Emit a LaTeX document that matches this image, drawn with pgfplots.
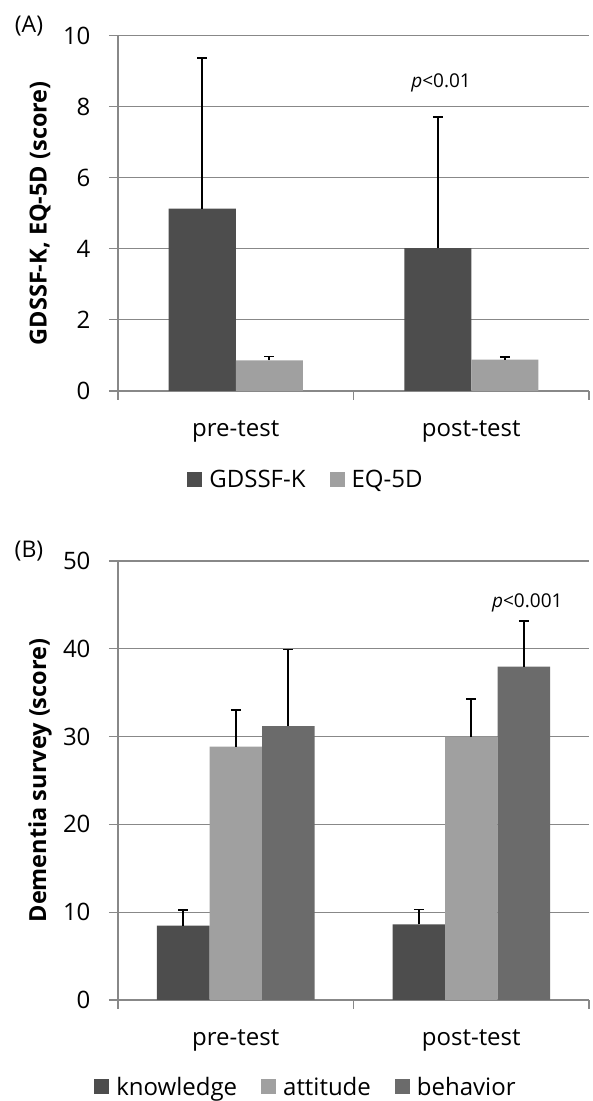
\documentclass[border=0pt]{standalone}
\usepackage{fontspec}
\setmainfont{Open Sans}
\usepackage{pgfplots}
\pgfplotsset{compat=1.18}
\definecolor{cdark}{HTML}{4D4D4D}
\definecolor{clight}{HTML}{A0A0A0}
\definecolor{cmid}{HTML}{6B6B6B}
\definecolor{cgrid}{HTML}{888888}
\pgfplotsset{
  mystyle/.style={
    scale only axis, width=471pt,
    xmin=-0.5, xmax=1.5,
    xtick={-0.5,0.5,1.5}, xticklabels={},
    extra x ticks={0,1}, extra x tick labels={pre-test,post-test},
    extra x tick style={major tick length=0pt, xticklabel style={yshift=-26pt}},
    axis x line*=bottom, axis y line*=left,
    axis line style={cgrid, line width=1.2pt, -},
    ymajorgrids, grid style={cgrid, line width=1.2pt},
    tick align=outside, major tick length=9pt,
    tick style={cgrid, line width=1.2pt},
    tick label style={font=\fontsize{24}{28}\selectfont},
    /pgf/number format/assume math mode=true,
    yticklabel style={xshift=-15pt},
    every axis y label/.style={at={(axis description cs:-0.1656,0.5)}, rotate=90, anchor=center},
    ylabel style={font=\bfseries\fontsize{23.5}{28}\selectfont},
    legend style={draw=none, fill=none, font=\fontsize{24}{28}\selectfont, legend columns=-1,
      /tikz/every odd column/.append style={column sep=5pt},
      /tikz/every even column/.append style={column sep=22pt}},
    ybar=0pt,
  },
  mylegend/.style={legend image code/.code={\fill[##1] (0pt,-7.5pt) rectangle (15pt,7.5pt);}},
  myerr/.style={error bars/.cd, y dir=plus, y explicit,
    error bar style={black, line width=1.6pt},
    error mark options={rotate=90, mark size=5pt, black, line width=1.6pt}},
}
\begin{document}
\begin{tikzpicture}
\path[use as bounding box] (0pt,0pt) rectangle (593pt,1101pt);
\begin{axis}[mystyle, at={(118pt,710pt)}, anchor=south west, height=355.5pt,
  ymin=0, ymax=10, ytick={0,2,4,6,8,10},
  bar width=67pt,
  ylabel={GDSSF-K, EQ-5D (score)},
  legend style={at={(axis description cs:0.399,-0.25)}, anchor=center}]
\addplot[fill=cdark, draw=none, mylegend, myerr] coordinates {(0,5.13) +- (0,4.23) (1,4.02) +- (0,3.69)};
\addplot[fill=clight, draw=none, mylegend, myerr] coordinates {(0,0.86) +- (0,0.11) (1,0.88) +- (0,0.08)};
\legend{GDSSF-K, EQ-5D}
\node[font=\fontsize{19}{22}\selectfont] at (axis cs:0.872,8.68) {\textit{p}<0.01};
\end{axis}
\begin{axis}[mystyle, at={(118pt,101pt)}, anchor=south west, height=439pt,
  ymin=0, ymax=50, ytick={0,10,20,30,40,50},
  bar width=52.5pt,
  ylabel={Dementia survey (score)},
  legend style={at={(axis description cs:0.399,-0.198)}, anchor=center}]
\addplot[fill=cdark, draw=none, mylegend, myerr] coordinates {(0,8.46) +- (0,1.79) (1,8.62) +- (0,1.68)};
\addplot[fill=clight, draw=none, mylegend, myerr] coordinates {(0,28.85) +- (0,4.15) (1,30.0) +- (0,4.25)};
\addplot[fill=cmid, draw=none, mylegend, myerr] coordinates {(0,31.2) +- (0,8.7) (1,37.96) +- (0,5.24)};
\legend{knowledge, attitude, behavior}
\node[font=\fontsize{19}{22}\selectfont] at (axis cs:1.238,45.2) {\textit{p}<0.001};
\end{axis}
\node[font=\fontsize{23}{27}\selectfont] at (29pt,1075pt) {(A)};
\node[font=\fontsize{23}{27}\selectfont] at (29pt,550pt) {(B)};
\end{tikzpicture}
\end{document}
